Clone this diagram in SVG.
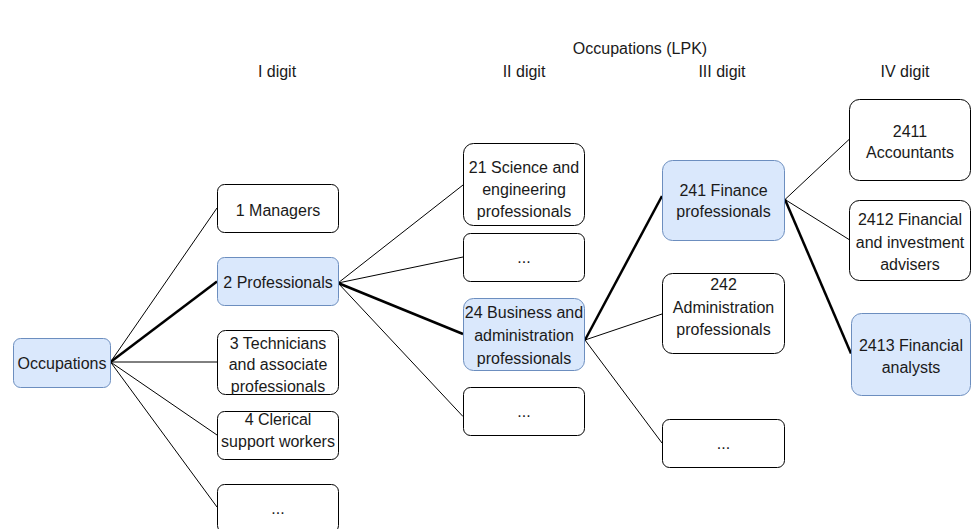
<svg xmlns="http://www.w3.org/2000/svg" width="971" height="529" viewBox="0 0 971 529">
<style>
text{font-family:"Liberation Sans",Arial,sans-serif;font-size:16px;fill:#1a1a1a;text-anchor:middle}
.n{fill:#ffffff;stroke:#000000;stroke-width:1}
.h{fill:#dae8fc;stroke:#6c8ebf;stroke-width:1}
.c{fill:none;stroke:#000000;stroke-width:1}
.t{fill:none;stroke:#000000;stroke-width:2.5}
</style>
<rect width="971" height="529" fill="#ffffff"/>
<g id="headers">
<text x="640" y="54">Occupations (LPK)</text>
<text x="277" y="77">I digit</text>
<text x="524" y="77">II digit</text>
<text x="722" y="77">III digit</text>
<text x="905" y="77">IV digit</text>
</g>
<g id="connectors">
<line class="c" x1="110.5" y1="362" x2="217" y2="208"/>
<line class="t" x1="110.5" y1="362" x2="217" y2="281.5"/>
<line class="c" x1="110.5" y1="362" x2="217" y2="362"/>
<line class="c" x1="110.5" y1="362" x2="217" y2="435"/>
<line class="c" x1="110.5" y1="362" x2="217" y2="507"/>
<line class="c" x1="338" y1="283" x2="463" y2="185"/>
<line class="c" x1="338" y1="283" x2="463" y2="257"/>
<line class="t" x1="338" y1="283" x2="463" y2="334"/>
<line class="c" x1="338" y1="283" x2="463" y2="416.5"/>
<line class="t" x1="585" y1="340" x2="662" y2="196"/>
<line class="c" x1="585" y1="340" x2="662" y2="314"/>
<line class="c" x1="585" y1="340" x2="662" y2="443"/>
<line class="c" x1="785" y1="199.5" x2="849" y2="139.5"/>
<line class="c" x1="785" y1="199.5" x2="849" y2="239.5"/>
<line class="t" x1="785" y1="199.5" x2="851" y2="353.5"/>
</g>
<g id="occupations"><rect class="h" x="13.5" y="338.5" width="97" height="49" rx="7"/><text x="62" y="368.5">Occupations</text></g>
<g id="n1"><rect class="n" x="217.5" y="184.5" width="121" height="48" rx="7"/><text x="278" y="215.5">1 Managers</text></g>
<g id="n2"><rect class="h" x="217.5" y="257.5" width="121" height="48" rx="7"/><text x="278" y="287.5">2 Professionals</text></g>
<g id="n3"><rect class="n" x="217.5" y="330.5" width="121" height="64" rx="8"/><text x="278" y="348.5">3 Technicians</text><text x="278" y="370">and associate</text><text x="278" y="391.5">professionals</text></g>
<g id="n4"><rect class="n" x="217.5" y="411.5" width="121" height="48" rx="7"/><text x="278" y="425">4 Clerical</text><text x="278" y="447.3">support workers</text></g>
<g id="n5"><rect class="n" x="217.5" y="484.5" width="121" height="48" rx="7"/><text x="278" y="514">...</text></g>
<g id="n21"><rect class="n" x="463.5" y="143.5" width="121" height="82" rx="10"/><text x="524" y="172.7">21 Science and</text><text x="524" y="195">engineering</text><text x="524" y="217.3">professionals</text></g>
<g id="n2x"><rect class="n" x="463.5" y="233.5" width="121" height="48" rx="7"/><text x="524" y="263">...</text></g>
<g id="n24"><rect class="h" x="463.5" y="298.5" width="121" height="72" rx="10"/><text x="524" y="317.7">24 Business and</text><text x="524" y="341">administration</text><text x="524" y="364">professionals</text></g>
<g id="n2y"><rect class="n" x="463.5" y="387.5" width="121" height="48" rx="7"/><text x="524" y="417">...</text></g>
<g id="n241"><rect class="h" x="662.5" y="160.5" width="122" height="80" rx="10"/><text x="723.5" y="195.7">241 Finance</text><text x="723.5" y="217.3">professionals</text></g>
<g id="n242"><rect class="n" x="662.5" y="273.5" width="122" height="80" rx="10"/><text x="723.5" y="290">242</text><text x="723.5" y="313">Administration</text><text x="723.5" y="335">professionals</text></g>
<g id="n24x"><rect class="n" x="662.5" y="419.5" width="122" height="48" rx="7"/><text x="723.5" y="449">...</text></g>
<g id="n2411"><rect class="n" x="849.5" y="99.5" width="121" height="81" rx="10"/><text x="910" y="137.3">2411</text><text x="910" y="158.3">Accountants</text></g>
<g id="n2412"><rect class="n" x="849.5" y="200.5" width="121" height="80" rx="10"/><text x="910" y="225">2412 Financial</text><text x="910" y="247.7">and investment</text><text x="910" y="270">advisers</text></g>
<g id="n2413"><rect class="h" x="851.5" y="313.5" width="119" height="82" rx="10"/><text x="911" y="351">2413 Financial</text><text x="911" y="372.7">analysts</text></g>
</svg>
